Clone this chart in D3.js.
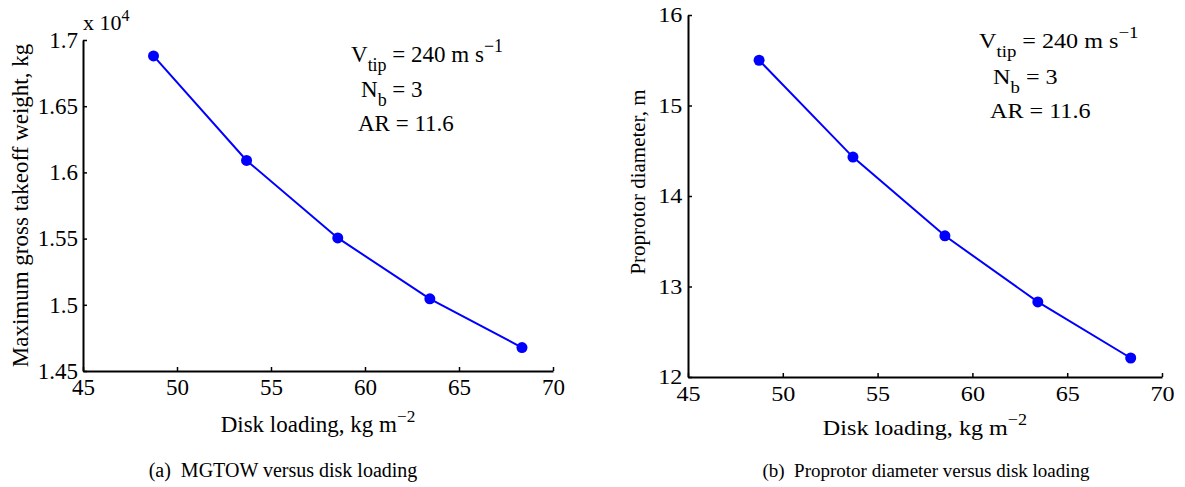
<!DOCTYPE html>
<html><head><meta charset="utf-8">
<script src="https://cdn.jsdelivr.net/npm/d3@7"></script>
<style>
body{margin:0;background:#fff}
svg text{font-family:"Liberation Serif","Times New Roman",serif;fill:#000}
</style>
</head><body>
<svg id="c" width="1185" height="487"></svg>
<script>
// ---- data ----
const diskLoading = [48.75, 53.7, 58.55, 63.45, 68.35];
const mgtow = [1.688, 1.609, 1.5505, 1.5045, 1.4677];      // x 10^4 kg
const diameter = [15.50, 14.43, 13.56, 12.83, 12.21];       // m
const xTicks = [45, 50, 55, 60, 65, 70];
const mgtowTicks = [1.45, 1.5, 1.55, 1.6, 1.65, 1.7];
const mgtowTickLabels = ["1.45", "1.5", "1.55", "1.6", "1.65", "1.7"];
const diameterTicks = [12, 13, 14, 15, 16];
const diameterTickLabels = ["12", "13", "14", "15", "16"];
const annotVtip = "240 m s";
const annotNb = "3";
const annotAR = "11.6";

const svg = d3.select("#c");

function stext(g, x, y, sx, fs) {
  return g.append("g").attr("transform", `translate(${x},${y}) scale(${sx},1)`)
    .append("text").attr("font-size", fs);
}

function panel(o) {
  const x = d3.scaleLinear().domain([45, 70]).range([o.x0, o.x1]);
  const y = d3.scaleLinear().domain(o.ydom).range([o.y1, o.y0]);
  const g = svg.append("g");

  const xa = g.append("g").attr("transform", `translate(0,${o.y1})`)
    .call(d3.axisBottom(x).tickValues(xTicks).tickFormat(d3.format("d"))
      .tickSizeInner(-4).tickSizeOuter(0).tickPadding(o.xpad));
  const ya = g.append("g").attr("transform", `translate(${o.x0},0)`)
    .call(d3.axisLeft(y).tickValues(o.yticks).tickFormat((d, i) => o.ylabels[i])
      .tickSizeInner(-4).tickSizeOuter(0).tickPadding(o.ypad));
  [xa, ya].forEach(a => {
    a.attr("font-family", "Liberation Serif, serif");
    a.selectAll("path.domain").attr("stroke", "#000").attr("stroke-width", 2);
    a.selectAll(".tick line").attr("stroke", "#000").attr("stroke-width", 1.5);
    a.selectAll(".tick text").attr("font-size", o.fs).attr("fill", "#000")
      .attr("transform", `scale(${o.sx},1)`);
  });

  const pts = diskLoading.map((d, i) => [d, o.vals[i]]);
  g.append("path").datum(pts)
    .attr("fill", "none").attr("stroke", "#0000ff").attr("stroke-width", 2)
    .attr("d", d3.line().x(d => x(d[0])).y(d => y(d[1])));
  g.selectAll("circle").data(pts).join("circle")
    .attr("cx", d => x(d[0])).attr("cy", d => y(d[1])).attr("r", 5.5)
    .attr("fill", "#0000ff");

  // x label
  const xl = stext(g, (o.x0 + o.x1) / 2, o.xlabY, o.sx, o.fs).attr("text-anchor", "middle");
  xl.append("tspan").text("Disk loading, kg m");
  xl.append("tspan").attr("dy", -10).attr("font-size", o.fs * 0.75).text("\u22122");

  // y label
  g.append("text").attr("transform", `translate(${o.ylabX},${(o.y0 + o.y1) / 2 + o.ylabDy}) rotate(-90)`)
    .attr("text-anchor", "middle").attr("font-size", o.ylabFs).text(o.ylabel);

  // annotations
  const a1 = stext(g, o.ax[0], o.ay[0], o.sx, o.fs);
  a1.append("tspan").text("V");
  a1.append("tspan").attr("dy", 9).attr("font-size", o.fs * 0.78).text("tip");
  a1.append("tspan").attr("dy", -9).text(" = " + annotVtip);
  a1.append("tspan").attr("dy", -10).attr("font-size", o.fs * 0.78).text("\u22121");
  const a2 = stext(g, o.ax[1], o.ay[1], o.sx, o.fs);
  a2.append("tspan").text("N");
  a2.append("tspan").attr("dy", 9).attr("font-size", o.fs * 0.78).text("b");
  a2.append("tspan").attr("dy", -9).text(" = " + annotNb);
  stext(g, o.ax[2], o.ay[2], o.sx, o.fs).text("AR = " + annotAR);

  // caption
  g.append("text").attr("x", o.capX).attr("y", 477).attr("text-anchor", "middle")
    .attr("font-size", o.capFs).attr("xml:space", "preserve").text(o.caption);
  return {x, y, g};
}

const p1 = panel({
  x0: 83, x1: 553, y0: 40, y1: 371, ydom: [1.45, 1.7],
  yticks: mgtowTicks, ylabels: mgtowTickLabels, vals: mgtow,
  fs: 23, sx: 1, xpad: 8, ypad: 5, xlabY: 432,
  ylabel: "Maximum gross takeoff weight, kg", ylabX: 28, ylabDy: 0, ylabFs: 23,
  ax: [351, 361, 358], ay: [62, 97, 131],
  capX: 283, capFs: 20, caption: "(a)  MGTOW versus disk loading"
});
// exponent label
const ex = p1.g.append("text").attr("x", 83).attr("y", 30).attr("font-size", 22);
ex.append("tspan").text("x 10");
ex.append("tspan").attr("dy", -9).attr("font-size", 16).text("4");

panel({
  x0: 688, x1: 1162, y0: 15, y1: 377, ydom: [12, 16],
  yticks: diameterTicks, ylabels: diameterTickLabels, vals: diameter,
  fs: 21, sx: 1.15, xpad: 9, ypad: 5, xlabY: 435,
  ylabel: "Proprotor diameter, m", ylabX: 645, ylabDy: -14, ylabFs: 21,
  ax: [979, 993, 990], ay: [48, 84, 118],
  capX: 926, capFs: 19, caption: "(b)  Proprotor diameter versus disk loading"
});
</script>
</body></html>
